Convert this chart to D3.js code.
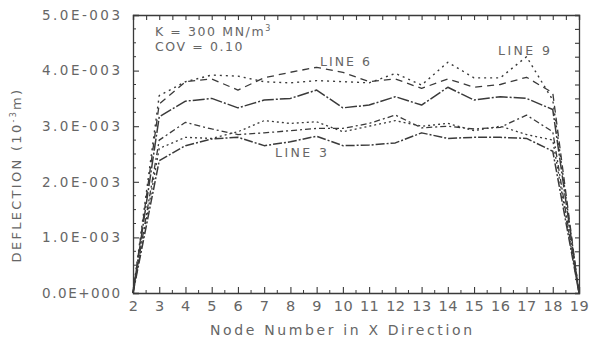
<!DOCTYPE html>
<html>
<head>
<meta charset="utf-8">
<script src="https://cdn.jsdelivr.net/npm/d3@7"></script>
<style>
  html, body { margin: 0; padding: 0; background: #fff; }
  svg { display: block; font-family: "DejaVu Sans", "Liberation Sans", sans-serif; }
</style>
</head>
<body>
<svg id="chart" width="590" height="343"></svg>
<script>
// Node numbers along the X direction
const nodes = [2, 3, 4, 5, 6, 7, 8, 9, 10, 11, 12, 13, 14, 15, 16, 17, 18, 19];

// Deflection values (units of 1e-3 m) at each node
const line3 = [0, 2.38, 2.65, 2.77, 2.80, 2.65, 2.72, 2.82, 2.65, 2.66, 2.70, 2.88, 2.78, 2.80, 2.80, 2.78, 2.55, 0];
const lineLowDotted = [0, 2.60, 2.80, 2.78, 2.90, 3.10, 3.05, 3.08, 2.90, 3.00, 3.10, 3.00, 3.05, 2.92, 3.00, 2.85, 2.75, 0];
const lineLowDashDot = [0, 2.75, 3.07, 2.95, 2.85, 2.88, 2.92, 2.96, 2.96, 3.05, 3.20, 2.97, 3.00, 2.95, 2.98, 3.20, 2.90, 0];
const lineMid = [0, 3.17, 3.45, 3.50, 3.33, 3.47, 3.50, 3.65, 3.33, 3.38, 3.53, 3.38, 3.70, 3.47, 3.53, 3.50, 3.30, 0];
const line6 = [0, 3.40, 3.80, 3.85, 3.65, 3.87, 3.97, 4.06, 3.97, 3.80, 3.85, 3.68, 3.85, 3.70, 3.75, 3.88, 3.60, 0];
const line9 = [0, 3.55, 3.80, 3.92, 3.90, 3.80, 3.78, 3.82, 3.80, 3.78, 3.95, 3.74, 4.15, 3.87, 3.87, 4.25, 3.47, 0];

// Axis tick values and labels
const yTicks = [0, 1, 2, 3, 4, 5];
const yTickLabels = ["0.0E+000", "1.0E-003", "2.0E-003", "3.0E-003", "4.0E-003", "5.0E-003"];
const xTickLabels = ["2", "3", "4", "5", "6", "7", "8", "9", "10", "11", "12", "13", "14", "15", "16", "17", "18", "19"];

const series = [
  { values: line3, dash: "9,2,2,2", width: 1.5 },
  { values: lineLowDotted, dash: "2,3", width: 1.3 },
  { values: lineLowDashDot, dash: "6,3,2,3", width: 1.3 },
  { values: lineMid, dash: "12,2,2,2", width: 1.5 },
  { values: line6, dash: "7,5", width: 1.3 },
  { values: line9, dash: "2,4", width: 1.4 }
];

const svg = d3.select("#chart");
const plotLeft = 133, plotRight = 579, plotTop = 15, plotBottom = 293;
const ink = "#3a3a3a";
const textInk = "#666";

const x = d3.scaleLinear().domain([2, 19]).range([plotLeft, plotRight]);
const y = d3.scaleLinear().domain([0, 5]).range([plotBottom, plotTop]);

// Minor ticks on all four sides
const xMinor = d3.range(2, 19.01, 0.5);
const yMinor = d3.range(0, 5.001, 0.25);

const g = svg.append("g");

// Bottom axis
const xAxis = d3.axisBottom(x).tickValues(nodes).tickSize(-6).tickFormat((d, i) => xTickLabels[i]).tickPadding(8);
const gx = g.append("g").attr("transform", `translate(0,${plotBottom})`).call(xAxis);
gx.select(".domain").attr("stroke", ink).attr("stroke-width", 1.3);
gx.selectAll(".tick line").attr("stroke", ink).attr("stroke-width", 1.1);
gx.selectAll(".tick text").attr("fill", textInk).attr("font-size", 14.5)
  .attr("font-family", "DejaVu Sans, sans-serif").attr("letter-spacing", "0.5px");
g.append("g").selectAll("line").data(xMinor.filter(v => v % 1 !== 0)).join("line")
  .attr("x1", d => x(d)).attr("x2", d => x(d)).attr("y1", plotBottom).attr("y2", plotBottom - 3)
  .attr("stroke", ink).attr("stroke-width", 1);

// Top axis
const gt = g.append("g").attr("transform", `translate(0,${plotTop})`)
  .call(d3.axisTop(x).tickValues(xMinor).tickSize(-5).tickFormat(""));
gt.select(".domain").attr("stroke", ink).attr("stroke-width", 1.3);
gt.selectAll(".tick line").attr("stroke", ink).attr("stroke-width", 1.1);

// Left axis
const yAxis = d3.axisLeft(y).tickValues(yTicks).tickSize(-6).tickFormat((d, i) => yTickLabels[i]).tickPadding(13);
const gy = g.append("g").attr("transform", `translate(${plotLeft},0)`).call(yAxis);
gy.select(".domain").attr("stroke", ink).attr("stroke-width", 1.3);
gy.selectAll(".tick line").attr("stroke", ink).attr("stroke-width", 1.1);
gy.selectAll(".tick text").attr("fill", textInk).attr("font-size", 13.5)
  .attr("font-family", "DejaVu Sans, sans-serif")
  .attr("textLength", 78).attr("lengthAdjust", "spacing");
g.append("g").selectAll("line").data(yMinor.filter(v => v % 1 !== 0)).join("line")
  .attr("x1", plotLeft).attr("x2", plotLeft + 3).attr("y1", d => y(d)).attr("y2", d => y(d))
  .attr("stroke", ink).attr("stroke-width", 1);

// Right axis
const gr = g.append("g").attr("transform", `translate(${plotRight},0)`)
  .call(d3.axisRight(y).tickValues(yMinor).tickSize(-4).tickFormat(""));
gr.select(".domain").attr("stroke", ink).attr("stroke-width", 1.3);
gr.selectAll(".tick line").attr("stroke", ink).attr("stroke-width", 1.1);

// Deflection curves
const line = d3.line().x((d, i) => x(nodes[i])).y(d => y(d));
g.append("g").selectAll("path").data(series).join("path")
  .attr("d", d => line(d.values))
  .attr("fill", "none")
  .attr("stroke", ink)
  .attr("stroke-width", d => d.width)
  .attr("stroke-dasharray", d => d.dash)
  .attr("stroke-linejoin", "round");

// Annotations
const ann = g.append("g").attr("fill", textInk).attr("font-size", 12.5);
ann.append("text").attr("x", 155).attr("y", 36).attr("letter-spacing", "1.6px")
  .text("K = 300 MN/m").append("tspan").attr("dy", -5).attr("font-size", 8).text("3");
ann.append("text").attr("x", 155).attr("y", 51).attr("letter-spacing", "1.6px").text("COV = 0.10");
ann.append("text").attr("x", 320).attr("y", 66).attr("textLength", 50).attr("lengthAdjust", "spacing").text("LINE 6");
ann.append("text").attr("x", 498).attr("y", 55).attr("textLength", 52).attr("lengthAdjust", "spacing").text("LINE 9");
ann.append("text").attr("x", 275).attr("y", 157).attr("textLength", 52).attr("lengthAdjust", "spacing").text("LINE 3");

// Axis titles
g.append("text").attr("x", 341).attr("y", 335)
  .attr("text-anchor", "middle").attr("fill", textInk).attr("font-size", 14)
  .attr("textLength", 262).attr("lengthAdjust", "spacing")
  .text("Node Number in X Direction");

const yt = g.append("text").attr("transform", "translate(21,175) rotate(-90)")
  .attr("text-anchor", "middle").attr("fill", textInk).attr("font-size", 13)
  .attr("letter-spacing", "2.3px");
yt.append("tspan").text("DEFLECTION (10");
yt.append("tspan").attr("dy", -5).attr("font-size", 8).text("-3");
yt.append("tspan").attr("dy", 5).text("m)");
</script>
</body>
</html>
